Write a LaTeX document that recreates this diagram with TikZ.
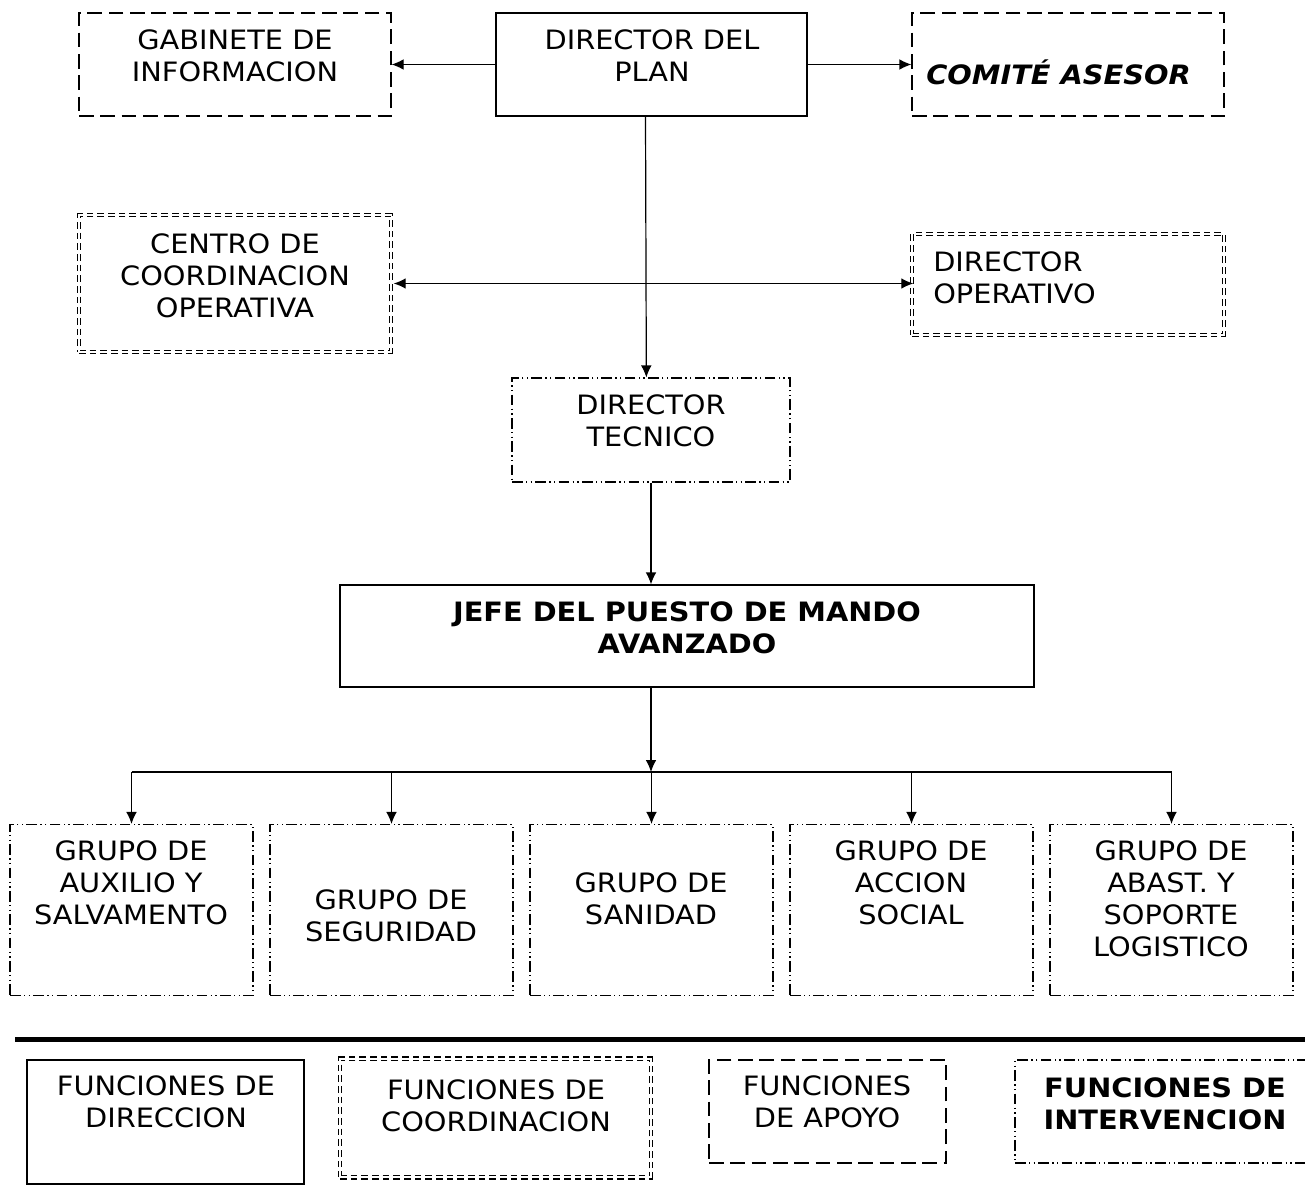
\documentclass[tikz,border=0pt]{standalone}
\usepackage{fontspec}
\setmainfont{DejaVu Sans}[FakeStretch=1.08]
\usetikzlibrary{arrows.meta}
\begin{document}
\begin{tikzpicture}[x=0.75pt,y=-0.75pt,
  box/.style={draw,line width=0.9pt,inner sep=0pt},
  dashbox/.style={box,dash pattern=on 11pt off 5pt},
  dblbox/.style={draw,inner sep=0pt,line width=1.1pt,double,double distance=1.3pt,dash pattern=on 5pt off 3pt},
  ddbox/.style={box,line width=0.8pt,dash pattern=on 8pt off 2.5pt on 1pt off 2.5pt on 1pt off 2.5pt},
  txt/.style={align=center,font=\fontsize{20}{24}\selectfont,inner sep=0pt},
  arr/.style={line width=0.9pt,-{Latex[length=9pt,width=8pt]}},
  darr/.style={line width=0.9pt,{Latex[length=9pt,width=8pt]}-{Latex[length=9pt,width=8pt]}}]
\useasboundingbox (0,0) rectangle (1305,1185);
% top row
\node[dashbox,minimum width=234pt,minimum height=77.25pt] (gab) at (235,64.5) {};
\node[box,minimum width=233.25pt,minimum height=77.25pt] (plan) at (651.5,64.5) {};
\node[dashbox,minimum width=234pt,minimum height=77.25pt] (com) at (1068,64.5) {};
\node[txt] (gabT) at (235,56) {GABINETE DE\\INFORMACION};
\node[txt] (planT) at (652,56) {DIRECTOR DEL\\PLAN};
\node[txt,anchor=west,font=\fontsize{20}{24}\selectfont\bfseries\itshape] (comT) at (926,72) {COMITÉ ASESOR};
% coordination row
\node[dblbox,minimum width=234pt,minimum height=102.75pt] (centro) at (235,283.5) {};
\node[dblbox,minimum width=234pt,minimum height=75.75pt] (dirop) at (1068,284.5) {};
\node[txt] (centroT) at (235,276) {CENTRO DE\\COORDINACION\\OPERATIVA};
\node[txt,anchor=west,align=left] (diropT) at (933,278) {DIRECTOR\\OPERATIVO};
% technical
\node[ddbox,minimum width=208.5pt,minimum height=78pt] (tec) at (651,430) {};
\node[txt] (tecT) at (651,421) {DIRECTOR\\TECNICO};
% jefe
\node[box,minimum width=520.5pt,minimum height=76.5pt] (jefe) at (687,636) {};
\node[txt,font=\fontsize{20}{24}\selectfont\bfseries] (jefeT) at (687,628) {JEFE DEL PUESTO DE MANDO\\AVANZADO};
% groups
\foreach \i/\cx in {1/131.5,2/391.5,3/651.5,4/911.5,5/1171.5}{
  \node[ddbox,minimum width=182.25pt,minimum height=128.25pt] (g\i) at (\cx,910) {};
}
\node[txt] (g1T) at (131,883) {GRUPO DE\\AUXILIO Y\\SALVAMENTO};
\node[txt] (g2T) at (391,916) {GRUPO DE\\SEGURIDAD};
\node[txt] (g3T) at (651,899) {GRUPO DE\\SANIDAD};
\node[txt] (g4T) at (911,883) {GRUPO DE\\ACCION\\SOCIAL};
\node[txt] (g5T) at (1171,899) {GRUPO DE\\ABAST. Y\\SOPORTE\\LOGISTICO};
% separator
\coordinate (sepL) at (15,1039);
\coordinate (sepR) at (1310,1039);
\draw[line width=3.75pt] (sepL) -- (sepR);
% legend
\node[box,minimum width=207.75pt,minimum height=93pt] (l1) at (165.5,1122) {};
\node[dblbox,minimum width=233.25pt,minimum height=89pt] (l2) at (495.5,1118) {};
\node[dashbox,minimum width=177.75pt,minimum height=77.25pt] (l3) at (827.5,1111.5) {};
\node[ddbox,minimum width=228.75pt,minimum height=77.25pt] (l4) at (1167.5,1111.5) {};
\node[txt] (l1T) at (166,1102) {FUNCIONES DE\\DIRECCION};
\node[txt] (l2T) at (496,1106) {FUNCIONES DE\\COORDINACION};
\node[txt] (l3T) at (827,1102) {FUNCIONES\\DE APOYO};
\node[txt,font=\fontsize{20}{24}\selectfont\bfseries] (l4T) at (1165,1104) {FUNCIONES DE\\INTERVENCION};
% connectors
\draw[arr] (plan.west) -- (gab.east);
\draw[arr] (plan.east) -- (com.west);
\draw[arr] ([xshift=-4.5pt]plan.south) -- ([xshift=-3.5pt]tec.north);
\draw[darr] ([xshift=1.5pt]centro.east) -- ([xshift=1.5pt]centro.east -| dirop.west);
\draw[arr] (tec.south) -- (tec.south |- jefe.north);
\coordinate (bus) at (651,772);
\draw[arr] (jefe.south -| bus) -- (bus);
\draw[line width=0.9pt] (g1.north |- bus) -- (g5.north |- bus);
\foreach \i in {1,...,5}{
  \draw[arr] (g\i.north |- bus) -- (g\i.north);
}
\end{tikzpicture}
\end{document}
